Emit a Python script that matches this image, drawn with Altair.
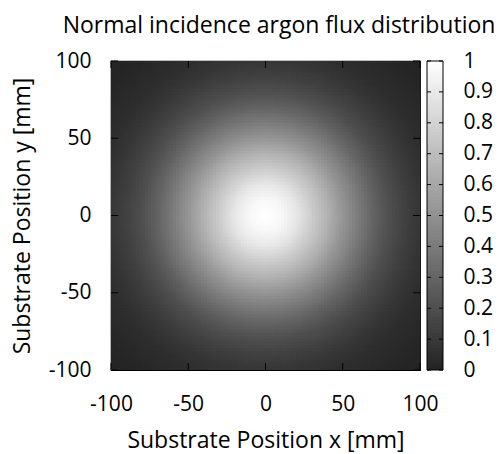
import altair as alt
import pandas as pd

# ---- data ----
# radial flux profile (normalised), radius from the centre in mm
radius_mm = [0, 10, 20, 30, 40, 50, 60, 70, 80, 90, 100, 110, 120, 130, 145]
flux = [1.00, 0.97, 0.89, 0.77, 0.65, 0.52, 0.40, 0.29, 0.20, 0.135, 0.088, 0.052, 0.03, 0.015, 0.0]
axis_ticks = [-100, -50, 0, 50, 100]
colorbar_ticks = [0, 0.1, 0.2, 0.3, 0.4, 0.5, 0.6, 0.7, 0.8, 0.9, 1]

# grey colormap: 0 -> dark grey, 1 -> white
LOW, HIGH = 0x23, 0xFF
def grey(v):
    g = int(round(LOW + (HIGH - LOW) * v))
    return "#{0:02x}{0:02x}{0:02x}".format(g)

profile_colors = [grey(v) for v in flux]
FONT = "Open Sans"
W = H = 309

xscale = alt.Scale(domain=[-100, 100], nice=False, zero=False)
yscale = alt.Scale(domain=[-100, 100], nice=False, zero=False)

XT = "Substrate Position x [mm]"
YT = "Substrate Position y [mm]"
x_axis = alt.Axis(values=axis_ticks, labelExpr="'' + datum.value", labelPadding=23,
                  title=XT, titleY=77, titleBaseline="alphabetic")
y_axis = alt.Axis(values=axis_ticks, labelExpr="'' + datum.value", labelPadding=20,
                  title=YT, titleX=-82, titleBaseline="alphabetic")

# heat map: 100 x 100 cells of 2 mm, coloured by their distance from the centre
heat = alt.Chart(alt.sequence(0, 10000, as_="i")).transform_calculate(
    col="floor(datum.i / 100)", row="datum.i % 100"
).transform_calculate(
    x0="-100 + datum.col * 2", y0="-100 + datum.row * 2"
).transform_calculate(
    x1="min(100, datum.x0 + 2.7)", y1="min(100, datum.y0 + 2.7)",
    r="sqrt(pow(datum.x0 + 1, 2) + pow(datum.y0 + 1, 2))",
).mark_rect(clip=True).encode(
    x=alt.X("x0:Q", scale=xscale, axis=x_axis, title=XT),
    x2="x1:Q",
    y=alt.Y("y0:Q", scale=yscale, axis=y_axis, title=YT),
    y2="y1:Q",
    fill=alt.Fill("r:Q", scale=alt.Scale(domain=radius_mm, range=profile_colors,
                                         interpolate="rgb"), legend=None),
)

tick_df = pd.DataFrame({"t": axis_ticks})
tk = alt.Chart(tick_df).mark_rule(color="black", strokeWidth=1)
bottom_t = tk.encode(x=alt.X("t:Q", scale=xscale, title=XT),
                     y=alt.value(H), y2=alt.value(H - 7))
top_t = tk.encode(x=alt.X("t:Q", scale=xscale, title=XT),
                  y=alt.value(0), y2=alt.value(7))
left_t = tk.encode(y=alt.Y("t:Q", scale=yscale, title=YT),
                   x=alt.value(0), x2=alt.value(7))
right_t = tk.encode(y=alt.Y("t:Q", scale=yscale, title=YT),
                    x=alt.value(W), x2=alt.value(W - 7))

main = alt.layer(heat, bottom_t, top_t, left_t, right_t)

# colour bar
CB0, CB1 = 316, 332
fscale = alt.Scale(domain=[0, 1], nice=False, zero=False)
cb_axis = alt.Axis(orient="right", values=colorbar_ticks, format=".1~f",
                   labelPadding=43, labelAlign="left", labelBaseline="middle", title=None)
cb = alt.Chart(alt.sequence(0, 100, as_="k")).transform_calculate(
    v0="datum.k / 100", v1="min(1, (datum.k + 1.5) / 100)", vm="(datum.k + 0.5) / 100"
).mark_rect().encode(
    x=alt.value(CB0), x2=alt.value(CB1),
    y=alt.Y("v0:Q", scale=fscale, axis=cb_axis),
    y2="v1:Q",
    fill=alt.Fill("vm:Q", scale=alt.Scale(domain=[0, 1], range=[grey(0), grey(1)],
                                          interpolate="rgb"), legend=None),
)
cbt_df = pd.DataFrame({"t": colorbar_ticks})
cbt = alt.Chart(cbt_df).mark_rule(color="black", strokeWidth=1)
cb_left = cbt.encode(y=alt.Y("t:Q", scale=fscale, axis=cb_axis),
                     x=alt.value(CB0), x2=alt.value(CB0 + 4))
cb_right = cbt.encode(y=alt.Y("t:Q", scale=fscale, axis=cb_axis),
                      x=alt.value(CB1 - 4), x2=alt.value(CB1))
cb_border = alt.Chart(pd.DataFrame({"a": [0]})).mark_rect(
    fillOpacity=0, stroke="black", strokeWidth=1
).encode(x=alt.value(CB0), x2=alt.value(CB1), y=alt.value(0), y2=alt.value(H))

colorbar = alt.layer(cb, cb_left, cb_right, cb_border)

chart = alt.layer(main, colorbar).resolve_scale(
    y="independent", fill="independent"
).properties(
    width=W, height=H,
    title=alt.TitleParams(text="Normal incidence argon flux distribution", font=FONT,
                          fontSize=23, fontWeight="normal", color="black",
                          anchor="middle", frame="group", dx=13.5, dy=28, offset=22,
                          baseline="alphabetic"),
    autosize=alt.AutoSizeParams(type="none"),
    padding={"left": 111, "top": 61, "right": 83, "bottom": 84},
).configure_view(
    stroke="black", strokeWidth=1.2
).configure_axis(
    labelFont=FONT, labelFontSize=21, labelColor="black",
    titleFont=FONT, titleFontSize=23, titleColor="black", titleFontWeight="normal",
    domain=False, ticks=False, grid=False, labelFlush=False, labelOverlap=False,
)

chart.save("out.html", embed_options={"renderer": "svg", "actions": False})
